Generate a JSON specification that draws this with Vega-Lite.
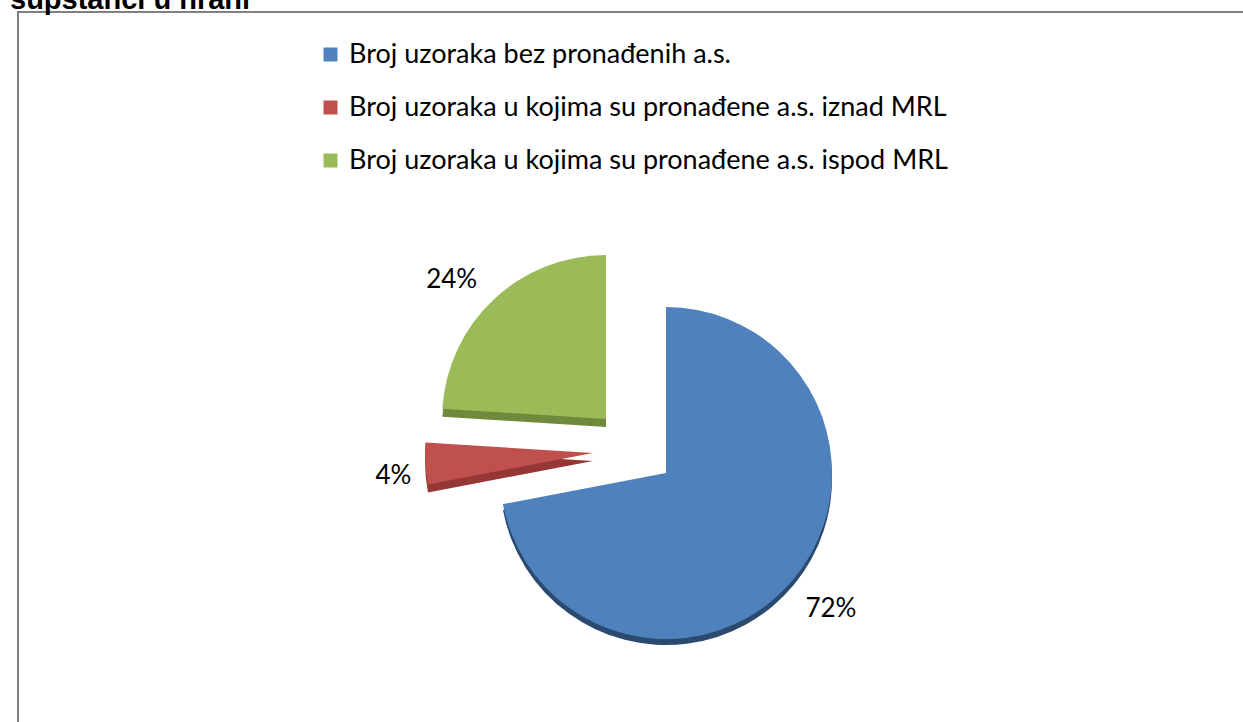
{
  "$schema": "https://vega.github.io/schema/vega-lite/v6.json",
  "width": 1235,
  "height": 720,
  "autosize": {"type": "none"},
  "padding": {"left": 18, "top": 12, "right": -10, "bottom": -10},
  "background": "white",
  "title": {"text": "supstanci u hrani", "anchor": "start", "frame": "group", "font": "Liberation Sans", "fontSize": 29, "fontWeight": "bold", "color": "black", "baseline": "alphabetic", "offset": -26, "dx": -8},
  "view": {"stroke": "#808080", "strokeWidth": 2, "fill": "white"},
  "data": {"values": [
    {"category": "Broj uzoraka bez pronađenih a.s.", "share": 0.72, "order": 1},
    {"category": "Broj uzoraka u kojima su pronađene a.s. iznad MRL", "share": 0.04, "order": 2},
    {"category": "Broj uzoraka u kojima su pronađene a.s. ispod MRL", "share": 0.24, "order": 3}
  ]},
  "transform": [
    {"stack": "share", "groupby": [], "as": ["t0", "t1"], "sort": [{"field": "order"}]},
    {"calculate": "(datum.t0 + datum.t1) / 2", "as": "tm"}
  ],
  "resolve": {"scale": {"theta": "shared"}},
  "layer": [
    {
      "transform": [{"filter": "datum.order == 1"}],
      "mark": {"type": "arc", "x": 648, "y": 461, "outerRadius": 166, "yOffset": 6, "fill": "#2b4a70"},
      "encoding": {"theta": {"field": "t0", "type": "quantitative", "scale": {"domain": [0, 1]}}, "theta2": {"field": "t1"}}
    },
    {
      "transform": [{"filter": "datum.order == 1"}],
      "mark": {"type": "arc", "x": 648, "y": 461, "outerRadius": 166},
      "encoding": {
        "theta": {"field": "t0", "type": "quantitative", "scale": {"domain": [0, 1]}},
        "theta2": {"field": "t1"},
        "color": {"field": "category", "type": "nominal",
          "scale": {"domain": ["Broj uzoraka bez pronađenih a.s.", "Broj uzoraka u kojima su pronađene a.s. iznad MRL", "Broj uzoraka u kojima su pronađene a.s. ispod MRL"], "range": ["#4f81bd", "#c0504d", "#9bbb59"]},
          "legend": {"orient": "none", "legendX": 299, "legendY": 29, "direction": "vertical", "title": null, "labelFont": "Lato", "labelFontSize": 27, "labelColor": "black", "symbolType": "square", "symbolSize": 196, "symbolStrokeWidth": 0, "rowPadding": 25, "labelLimit": 1000, "labelOffset": 5}
        }
      }
    },
    {
      "transform": [{"filter": "datum.order == 1"}],
      "mark": {"type": "text", "x": 648, "y": 461, "radius": 214, "font": "Lato", "fontSize": 26, "color": "black"},
      "encoding": {"theta": {"field": "tm", "type": "quantitative", "scale": {"domain": [0, 1]}}, "text": {"field": "share", "type": "quantitative", "format": ".0%"}}
    },
    {
      "transform": [{"filter": "datum.order == 2"}],
      "mark": {"type": "arc", "x": 575, "y": 441, "outerRadius": 168, "yOffset": 8, "fill": "#953735"},
      "encoding": {"theta": {"field": "t0", "type": "quantitative", "scale": {"domain": [0, 1]}}, "theta2": {"field": "t1"}}
    },
    {
      "transform": [{"filter": "datum.order == 2"}],
      "mark": {"type": "arc", "x": 575, "y": 441, "outerRadius": 168},
      "encoding": {"theta": {"field": "t0", "type": "quantitative", "scale": {"domain": [0, 1]}}, "theta2": {"field": "t1"}, "color": {"field": "category", "type": "nominal"}}
    },
    {
      "transform": [{"filter": "datum.order == 2"}],
      "mark": {"type": "text", "x": 575, "y": 441, "radius": 200, "yOffset": 10, "font": "Lato", "fontSize": 26, "color": "black"},
      "encoding": {"theta": {"field": "tm", "type": "quantitative", "scale": {"domain": [0, 1]}}, "text": {"field": "share", "type": "quantitative", "format": ".0%"}}
    },
    {
      "transform": [{"filter": "datum.order == 3"}],
      "mark": {"type": "arc", "x": 588, "y": 407, "outerRadius": 164, "yOffset": 8, "fill": "#6f8a3c"},
      "encoding": {"theta": {"field": "t0", "type": "quantitative", "scale": {"domain": [0, 1]}}, "theta2": {"field": "t1"}}
    },
    {
      "transform": [{"filter": "datum.order == 3"}],
      "mark": {"type": "arc", "x": 588, "y": 407, "outerRadius": 164},
      "encoding": {"theta": {"field": "t0", "type": "quantitative", "scale": {"domain": [0, 1]}}, "theta2": {"field": "t1"}, "color": {"field": "category", "type": "nominal"}}
    },
    {
      "transform": [{"filter": "datum.order == 3"}],
      "mark": {"type": "text", "x": 588, "y": 407, "radius": 205, "xOffset": -14, "yOffset": 10, "font": "Lato", "fontSize": 26, "color": "black"},
      "encoding": {"theta": {"field": "tm", "type": "quantitative", "scale": {"domain": [0, 1]}}, "text": {"field": "share", "type": "quantitative", "format": ".0%"}}
    }
  ]
}
